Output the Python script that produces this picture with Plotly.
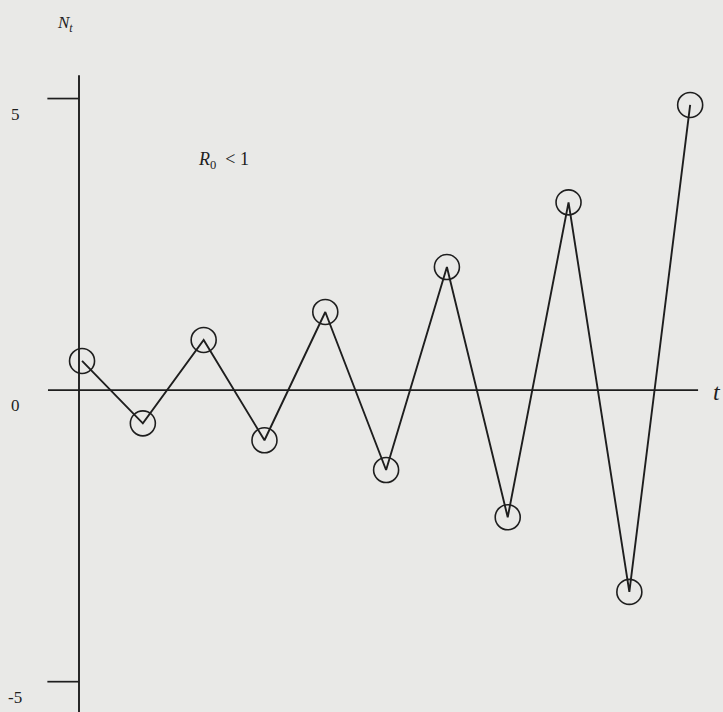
import plotly.graph_objects as go

# Population N_t over successive generations t (oscillating, growing amplitude)
t = [0, 1, 2, 3, 4, 5, 6, 7, 8, 9, 10]
N = [0.50, -0.57, 0.86, -0.86, 1.34, -1.37, 2.11, -2.18, 3.22, -3.46, 4.89]
tick_values = [5, 0, -5]
tick_labels = ["5", "0", "-5"]

W, H = 723, 712
X_RANGE = [-1.349, 10.54]
Y_RANGE = [-5.52, 6.69]
INK = "#1e1e1e"
SERIF = "Liberation Serif"

fig = go.Figure()

fig.add_trace(go.Scatter(
    x=t, y=N,
    mode="lines+markers",
    line=dict(color=INK, width=1.9),
    marker=dict(symbol="circle-open", size=25, color=INK,
                line=dict(color=INK, width=1.6)),
    showlegend=False,
    hoverinfo="x+y",
))

shapes = []
# vertical N_t axis
shapes.append(dict(type="line", xref="x", yref="y",
                   x0=-0.05, x1=-0.05, y0=5.40, y1=Y_RANGE[0],
                   line=dict(color=INK, width=1.9)))
# horizontal t axis at N = 0
shapes.append(dict(type="line", xref="x", yref="y",
                   x0=-0.56, x1=10.13, y0=0, y1=0,
                   line=dict(color=INK, width=1.9)))
# tick marks at +5 and -5
for v in tick_values:
    if v != 0:
        shapes.append(dict(type="line", xref="x", yref="y",
                           x0=-0.57, x1=-0.05, y0=v, y1=v,
                           line=dict(color=INK, width=1.7)))

annotations = []
# tick labels sit a little below their tick lines
for v, lab in zip(tick_values, tick_labels):
    annotations.append(dict(
        x=-1.10, y=v - 0.27, xref="x", yref="y",
        text=lab, showarrow=False,
        font=dict(family=SERIF, size=17, color=INK),
        xanchor="center", yanchor="middle",
    ))

annotations.append(dict(
    x=65 / W, y=1 - 24 / H, xref="paper", yref="paper",
    text="<i>N</i><sub><i>t</i></sub>", showarrow=False,
    font=dict(family=SERIF, size=17, color=INK),
    xanchor="center", yanchor="middle",
))
annotations.append(dict(
    x=717 / W, y=1 - 392 / H, xref="paper", yref="paper",
    text="<i>t</i>", showarrow=False,
    font=dict(family=SERIF, size=24, color=INK),
    xanchor="center", yanchor="middle",
))
annotations.append(dict(
    x=223 / W, y=1 - 160 / H, xref="paper", yref="paper",
    text="<i>R</i><sub>0</sub>  &lt; 1", showarrow=False,
    font=dict(family=SERIF, size=18, color=INK),
    xanchor="center", yanchor="middle",
))

fig.update_layout(
    width=W, height=H,
    margin=dict(l=0, r=0, t=0, b=0),
    paper_bgcolor="#e9e9e7",
    plot_bgcolor="#e9e9e7",
    shapes=shapes,
    annotations=annotations,
    xaxis=dict(range=X_RANGE, visible=False, fixedrange=True),
    yaxis=dict(range=Y_RANGE, visible=False, fixedrange=True),
)

fig.write_html("out.html")
